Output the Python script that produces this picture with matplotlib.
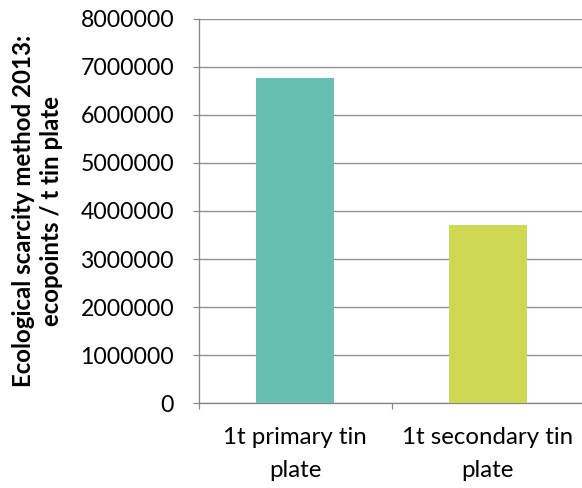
import matplotlib.pyplot as plt

categories = ["1t primary tin\nplate", "1t secondary tin\nplate"]
values = [6770000, 3710000]
colors = ["#67BFB2", "#CDD853"]
yticks = list(range(0, 8000001, 1000000))

plt.rcParams["font.family"] = ["Lato", "DejaVu Sans"]

fig = plt.figure(figsize=(582 / 72, 488 / 72), dpi=72)
ax = fig.add_axes([199 / 582, (488 - 403.3) / 488, 385 / 582, 384.7 / 488])

ax.bar(range(len(values)), values, width=0.405, color=colors, zorder=3)

ax.set_xlim(-0.5, 1.5)
ax.set_ylim(0, 8000000)
ax.set_yticks(yticks)
ax.set_yticklabels([str(v) for v in yticks], fontsize=23)
ax.set_xticks([-0.5, 0.5, 1.5])
ax.set_xticklabels([])
ax.set_xticks([0, 1], minor=True)
ax.set_xticklabels(categories, minor=True, fontsize=24, linespacing=1.7)
ax.tick_params(axis="x", which="minor", length=0, pad=24)
ax.tick_params(axis="x", which="major", length=6, width=1.2, color="#868686")
ax.tick_params(axis="y", length=6, width=1.2, color="#868686", pad=19)

ax.grid(axis="y", color="#8C8C8C", linewidth=1.3, zorder=0)
for side in ["top", "right"]:
    ax.spines[side].set_visible(False)
for side in ["left", "bottom"]:
    ax.spines[side].set_color("#868686")
    ax.spines[side].set_linewidth(1.3)

ax.set_ylabel("Ecological scarcity method 2013:\necopoints / t tin plate",
              fontsize=24, fontweight="bold", labelpad=17, linespacing=1.3)

fig.savefig("out.png", dpi=72)
